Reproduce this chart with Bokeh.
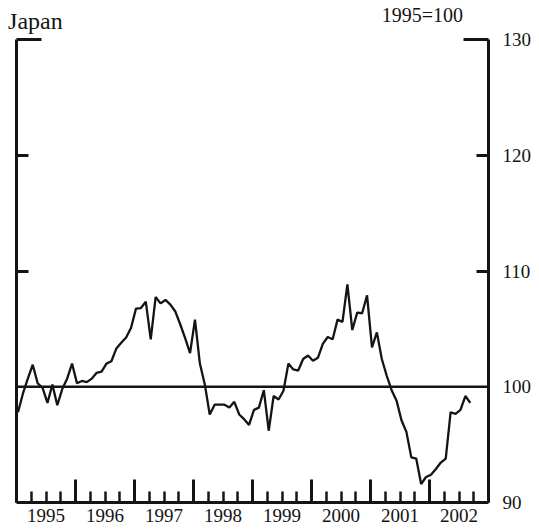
from bokeh.plotting import figure
from bokeh.models import Range1d, LinearAxis, FixedTicker, Span, CustomJSTickFormatter
from bokeh.embed import file_html
from bokeh.resources import INLINE

# Monthly index, 1995=100, Jan 1995 - Sep 2002
start_year = 1995
values = [
    # 1995
    97.8, 99.4, 100.7, 101.9, 100.3, 99.9, 98.6, 100.2, 98.4, 99.8, 100.7, 102.0,
    # 1996
    100.3, 100.5, 100.4, 100.7, 101.2, 101.3, 102.0, 102.2, 103.3, 103.8, 104.25, 105.1,
    # 1997
    106.75, 106.8, 107.35, 104.1, 107.75, 107.2, 107.5, 107.1, 106.5, 105.4, 104.2, 102.9,
    # 1998
    105.8, 102.0, 100.2, 97.6, 98.45, 98.45, 98.45, 98.2, 98.7, 97.6, 97.2, 96.7,
    # 1999
    98.0, 98.2, 99.7, 96.2, 99.2, 98.9, 99.65, 102.0, 101.5, 101.4, 102.4, 102.7,
    # 2000
    102.25, 102.5, 103.7, 104.3, 104.1, 105.8, 105.6, 108.85, 104.9, 106.4, 106.35, 107.9,
    # 2001
    103.4, 104.7, 102.4, 100.95, 99.7, 98.8, 97.1, 96.1, 93.9, 93.8, 91.6, 92.2,
    # 2002
    92.4, 92.9, 93.45, 93.8, 97.8, 97.65, 98.0, 99.2, 98.6,
]
years = [1995, 1996, 1997, 1998, 1999, 2000, 2001, 2002]
year_labels = [str(y) for y in years]
y_ticks = [90, 100, 110, 120, 130]
y_labels = [str(v) for v in y_ticks]
baseline = 100
title = "Japan"
note = "1995=100"

x = [start_year + (i + 0.3) / 12 for i in range(len(values))]

X0, X1 = 1995, 2003
Y0, Y1 = 90, 130
INK = "#141414"
FONT = "Liberation Serif"

p = figure(width=534, height=530, output_backend="svg", toolbar_location=None,
           x_range=Range1d(X0, X1), y_range=Range1d(Y0, Y1),
           x_axis_location=None, y_axis_location=None,
           min_border_left=16, min_border_right=41, min_border_top=38, min_border_bottom=28)
p.outline_line_color = None
p.xgrid.visible = False
p.ygrid.visible = False
p.background_fill_color = "white"
p.border_fill_color = "white"

blank = CustomJSTickFormatter(code="return ''")


def tick_axis(ticker, major_in, minor_in=0, minor_w=3):
    a = LinearAxis(ticker=ticker, formatter=blank)
    a.axis_line_width = 3
    a.axis_line_color = INK
    a.major_tick_in = major_in
    a.major_tick_out = 0
    a.minor_tick_in = minor_in
    a.minor_tick_out = 0
    a.major_tick_line_width = 3
    a.minor_tick_line_width = minor_w
    a.major_tick_line_color = INK
    a.minor_tick_line_color = INK
    a.major_label_text_font_size = "1px"
    a.major_label_standoff = 0
    return a


def label_axis(positions, labels, size, standoff):
    fmt = CustomJSTickFormatter(
        args=dict(pos=list(positions), lab=list(labels)),
        code="""
            let best = 0, d = Infinity;
            for (let i = 0; i < pos.length; i++) {
                const e = Math.abs(pos[i] - tick);
                if (e < d) { d = e; best = i; }
            }
            return lab[best];
        """)
    a = LinearAxis(ticker=FixedTicker(ticks=list(positions), minor_ticks=[]), formatter=fmt)
    a.axis_line_color = None
    a.major_tick_line_color = None
    a.minor_tick_line_color = None
    a.major_tick_in = 0
    a.major_tick_out = 0
    a.major_label_standoff = standoff
    a.major_label_text_font = FONT
    a.major_label_text_font_size = size
    a.major_label_text_color = INK
    return a


# bottom: year boundary ticks (tall) and quarter ticks (short)
xa = tick_axis(FixedTicker(ticks=list(range(1995, 2004)),
                           minor_ticks=[y + q / 4 for y in years for q in (1, 2, 3)]),
               23, 11, 2.5)
p.add_layout(xa, "below")
# bottom: year labels centred in each year
p.add_layout(label_axis([y + 0.5 for y in years], year_labels, "19px", 6), "below")

# left: long tick at the top, short ticks at 110 and 120
p.add_layout(tick_axis(FixedTicker(ticks=[Y1], minor_ticks=[110, 120]), 25, 12), "left")

# right: same ticks, labels on an outer axis
p.add_layout(tick_axis(FixedTicker(ticks=[Y1], minor_ticks=[110, 120]), 25, 12), "right")
p.add_layout(label_axis(y_ticks, y_labels, "19px", 14), "right")

# top: titles
title_x = X0 + 0.32
note_x = X0 + 6.88
p.add_layout(label_axis([title_x], [title], "24px", 6), "above")
p.add_layout(label_axis([note_x], [note], "20px", -21), "above")

# reference line at 100
p.add_layout(Span(location=baseline, dimension="width", line_color=INK, line_width=2.5))

# data line
p.line(x, values, line_color=INK, line_width=2.3)

open("out.html", "w").write(file_html(p, INLINE))
